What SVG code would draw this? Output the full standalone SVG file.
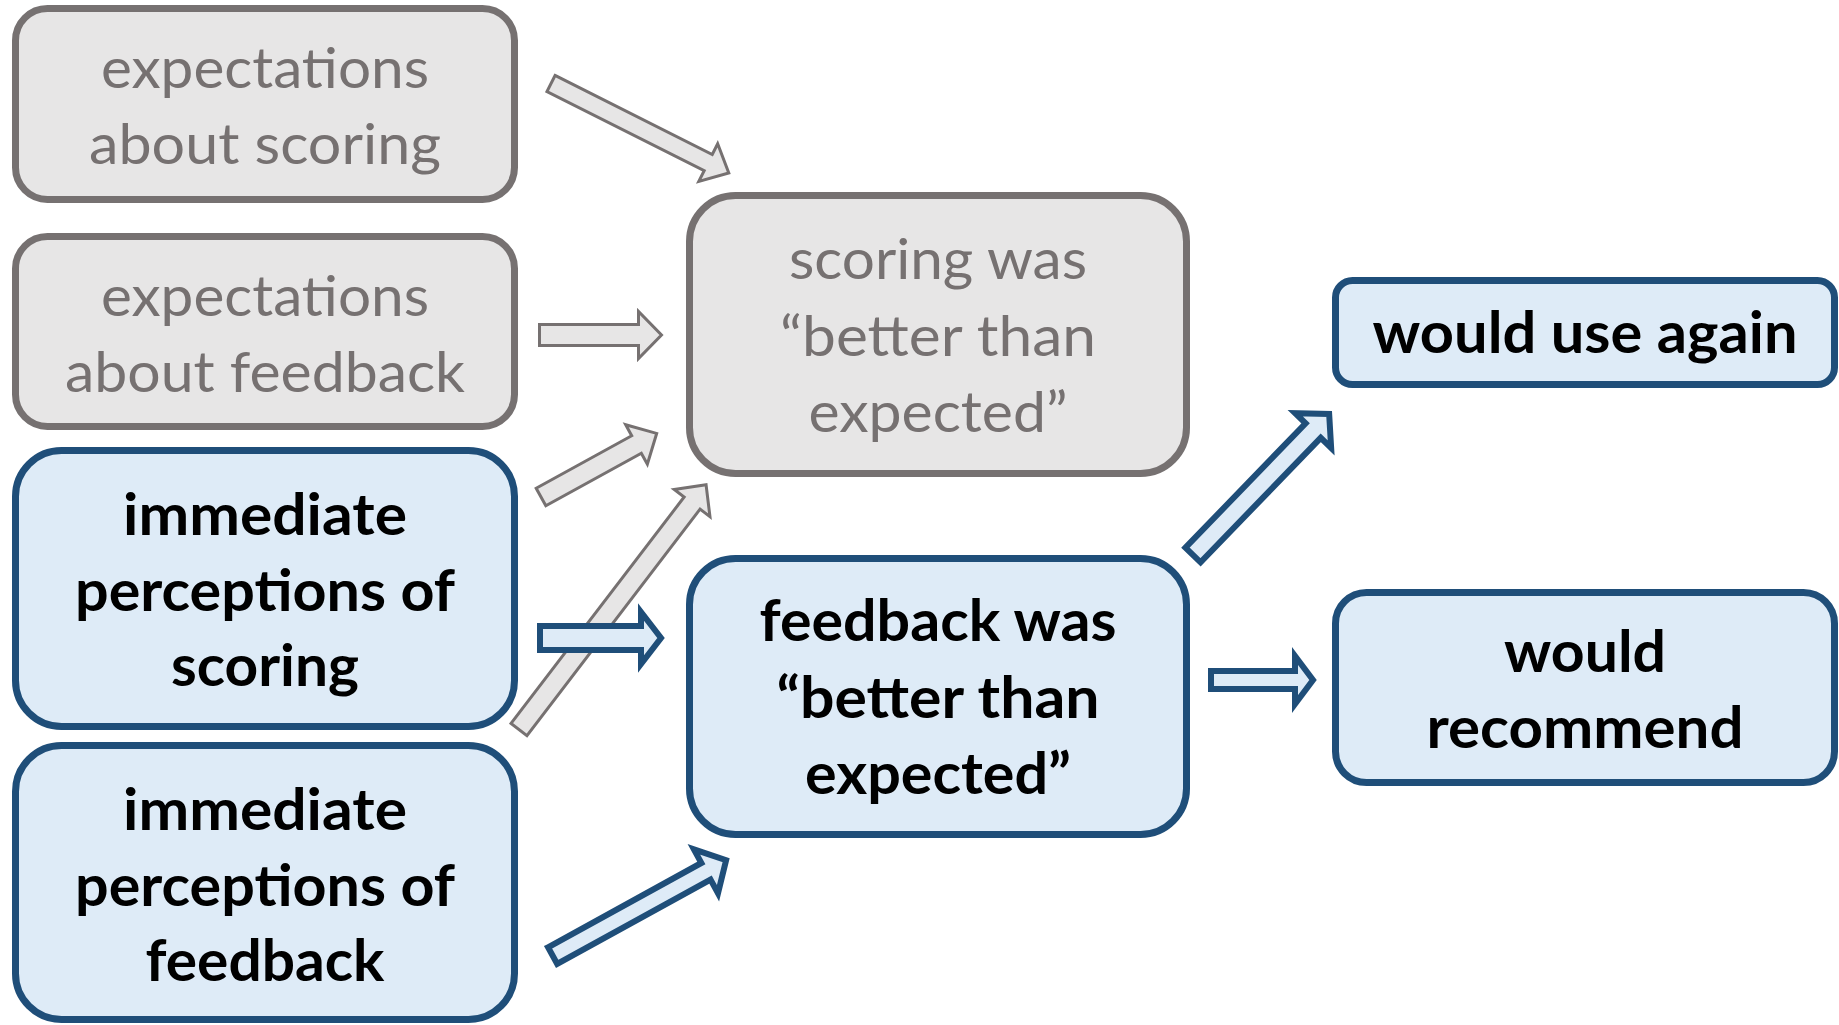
<svg xmlns="http://www.w3.org/2000/svg" width="1839" height="1025" viewBox="0 0 1839 1025">
<style>
.gbox{fill:#E7E6E6;stroke:#767171;stroke-width:7}
.bbox{fill:#DEEBF7;stroke:#1F4E79;stroke-width:7}
.garr{fill:#E7E6E6;stroke:#767171;stroke-width:3;stroke-linejoin:miter}
.barr{fill:#DEEBF7;stroke:#1F4E79;stroke-width:6;stroke-linejoin:miter}
.gt{font-family:Lato,"Open Sans","Liberation Sans",sans-serif;font-size:57px;fill:#767171;text-anchor:middle}
.bt{font-family:Lato,"Open Sans","Liberation Sans",sans-serif;font-size:57px;font-weight:bold;fill:#000;text-anchor:middle}
</style>
<rect width="1839" height="1025" fill="#fff"/>
<g id="connectors">
<polygon class="garr" transform="translate(551,83.5) rotate(26.7)" points="0,-9 176,-9 176,-21 199,0 176,21 176,9 0,9"/>
<polygon class="garr" transform="translate(539.5,335)" points="0,-10.5 99,-10.5 99,-23.5 122,0 99,23.5 99,10.5 0,10.5"/>
<polygon class="garr" transform="translate(541,497) rotate(-28.8)" points="0,-10 109,-10 109,-22.5 132,0 109,22.5 109,10 0,10"/>
<polygon class="garr" transform="translate(519,729.5) rotate(-52.6)" points="0,-10 285,-10 285,-22.5 308,0 285,22.5 285,10 0,10"/>
<polygon class="barr" transform="translate(540,638)" points="0,-12 101,-12 101,-26 121,0 101,26 101,12 0,12"/>
<polygon class="barr" transform="translate(552.6,955.6) rotate(-28.8)" points="0,-9.5 175,-9.5 175,-25 198,0 175,25 175,9.5 0,9.5"/>
<polygon class="barr" transform="translate(1193,555) rotate(-46)" points="0,-10.5 173,-10.5 173,-25 196,0 173,25 173,10.5 0,10.5"/>
<polygon class="barr" transform="translate(1211,680)" points="0,-9 84,-9 84,-24 102,0 84,24 84,9 0,9"/>
</g>
<g id="exp-scoring">
<rect class="gbox" x="15.5" y="8.5" width="499" height="191" rx="32"/>
<text class="gt" x="265" y="88" textLength="328" lengthAdjust="spacingAndGlyphs">expectations</text>
<text class="gt" x="265" y="164" textLength="352" lengthAdjust="spacingAndGlyphs">about scoring</text>
</g>
<g id="exp-feedback">
<rect class="gbox" x="15.5" y="236.5" width="499" height="190" rx="32"/>
<text class="gt" x="265" y="316" textLength="328" lengthAdjust="spacingAndGlyphs">expectations</text>
<text class="gt" x="265" y="392" textLength="400" lengthAdjust="spacingAndGlyphs">about feedback</text>
</g>
<g id="perc-scoring">
<rect class="bbox" x="15.5" y="450.5" width="499" height="276" rx="46"/>
<text class="bt" x="265" y="535" textLength="284" lengthAdjust="spacingAndGlyphs">immediate</text>
<text class="bt" x="265" y="611" textLength="380" lengthAdjust="spacingAndGlyphs">perceptions of</text>
<text class="bt" x="265" y="686" textLength="188" lengthAdjust="spacingAndGlyphs">scoring</text>
</g>
<g id="perc-feedback">
<rect class="bbox" x="15.5" y="745.5" width="499" height="274" rx="46"/>
<text class="bt" x="265" y="830" textLength="284" lengthAdjust="spacingAndGlyphs">immediate</text>
<text class="bt" x="265" y="906" textLength="380" lengthAdjust="spacingAndGlyphs">perceptions of</text>
<text class="bt" x="265" y="981" textLength="239" lengthAdjust="spacingAndGlyphs">feedback</text>
</g>
<g id="scoring-better">
<rect class="gbox" x="689.5" y="195.5" width="497" height="278" rx="46"/>
<text class="gt" x="938" y="279" textLength="298" lengthAdjust="spacingAndGlyphs">scoring was</text>
<text class="gt" x="938" y="356" textLength="316" lengthAdjust="spacingAndGlyphs">“better than</text>
<text class="gt" x="938" y="432" textLength="259" lengthAdjust="spacingAndGlyphs">expected”</text>
</g>
<g id="feedback-better">
<rect class="bbox" x="689.5" y="558.5" width="497" height="276" rx="46"/>
<text class="bt" x="938" y="641" textLength="357" lengthAdjust="spacingAndGlyphs">feedback was</text>
<text class="bt" x="938" y="718" textLength="323" lengthAdjust="spacingAndGlyphs">“better than</text>
<text class="bt" x="938" y="794" textLength="266" lengthAdjust="spacingAndGlyphs">expected”</text>
</g>
<g id="use-again">
<rect class="bbox" x="1335.5" y="280.5" width="499" height="104" rx="17"/>
<text class="bt" x="1585" y="353" textLength="425" lengthAdjust="spacingAndGlyphs">would use again</text>
</g>
<g id="recommend">
<rect class="bbox" x="1335.5" y="592.5" width="499" height="190" rx="31"/>
<text class="bt" x="1585" y="672" textLength="162" lengthAdjust="spacingAndGlyphs">would</text>
<text class="bt" x="1585" y="748" textLength="317" lengthAdjust="spacingAndGlyphs">recommend</text>
</g>
</svg>
